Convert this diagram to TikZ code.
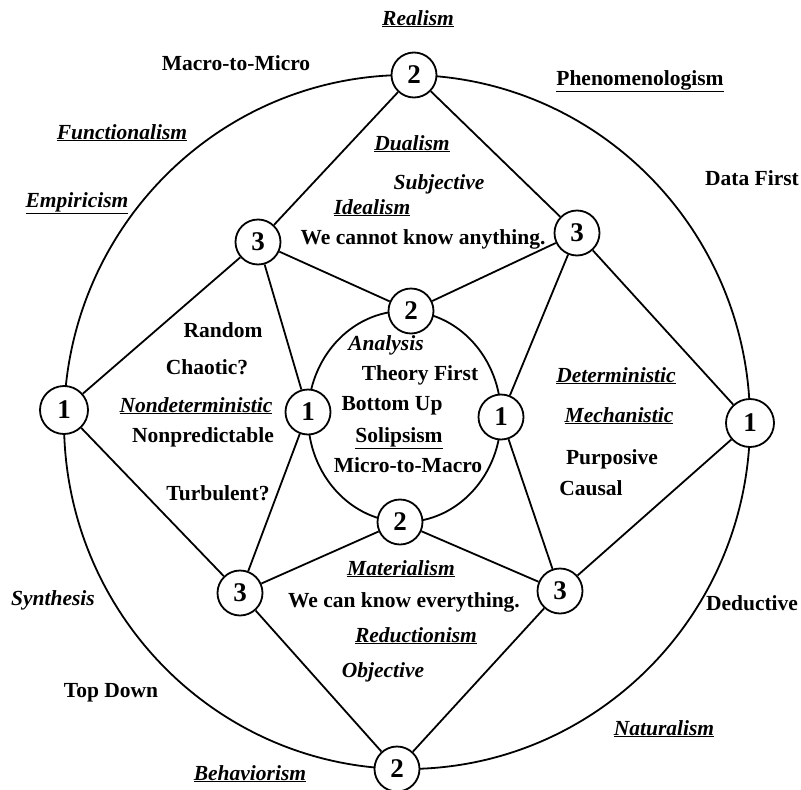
\documentclass[tikz,border=0pt]{standalone}
\usepackage{fontspec}
\setmainfont{Liberation Serif}
\tikzset{
  lab/.style={font=\fontsize{21.5}{24}\selectfont\bfseries, anchor=base, inner sep=0pt},
  ilab/.style={lab, font=\fontsize{21.5}{24}\selectfont\bfseries\itshape},
  num/.style={circle, draw, fill=white, line width=1.8pt, minimum size=45pt, inner sep=0pt,
              font=\fontsize{27}{27}\selectfont\bfseries},
  bignum/.style={num, minimum size=48pt},
  ring/.style={line width=1.8pt},
  link/.style={line width=1.8pt}
}
\begin{document}
\begin{tikzpicture}[x=1pt,y=-1pt]
\useasboundingbox (0,0) rectangle (801,790);
% rings
\draw[ring] (407,422) ellipse [x radius=343, y radius=347];
\draw[ring] (404.5,416.5) ellipse [x radius=96.5, y radius=105.5];
% nodes
\node[num]    (o2t) at (414,75)  {2};
\node[num]    (o2b) at (397,769) {2};
\node[bignum] (o1l) at (64,410)  {1};
\node[bignum] (o1r) at (750,423) {1};
\node[num] (t3ul) at (258,242) {3};
\node[num] (t3ur) at (577,233) {3};
\node[num] (t3ll) at (240,593) {3};
\node[num] (t3lr) at (560,591) {3};
\node[num] (i2t) at (411,311) {2};
\node[num] (i2b) at (400,522) {2};
\node[num] (i1l) at (308,412) {1};
\node[num] (i1r) at (501,417) {1};
% links
\draw[link] (o2t) -- (t3ul);
\draw[link] (o2t) -- (t3ur);
\draw[link] (o1l) -- (t3ul);
\draw[link] (o1l) -- (t3ll);
\draw[link] (o1r) -- (t3ur);
\draw[link] (o1r) -- (t3lr);
\draw[link] (o2b) -- (t3ll);
\draw[link] (o2b) -- (t3lr);
\draw[link] (t3ul) -- (i2t);
\draw[link] (t3ul) -- (i1l);
\draw[link] (t3ur) -- (i2t);
\draw[link] (t3ur) -- (i1r);
\draw[link] (t3ll) -- (i1l);
\draw[link] (t3ll) -- (i2b);
\draw[link] (t3lr) -- (i1r);
\draw[link] (t3lr) -- (i2b);
% labels
\node[ilab] (realism) at (418,25) {\underline{Realism}};
\node[lab] (macro) at (236,70) {Macro-to-Micro};
\node[lab] (phen) at (640,85) {\underline{Phenomenologism}};
\node[ilab] (func) at (122,139) {\underline{Functionalism}};
\node[ilab] (emp) at (77,207) {\underline{Empiricism}};
\node[lab] (data) at (752,185) {Data First};
\node[ilab] (dual) at (412,150) {\underline{Dualism}};
\node[ilab] (subj) at (439,189) {Subjective};
\node[ilab] (ideal) at (372,214) {\underline{Idealism}};
\node[lab] (cannot) at (423,244) {We cannot know anything.};
\node[lab] (random) at (223,337) {Random};
\node[lab] (chaotic) at (207,374) {Chaotic?};
\node[ilab] (nondet) at (196,412) {\underline{Nondeterministic}};
\node[lab] (nonpred) at (203,442) {Nonpredictable};
\node[lab] (turb) at (218,500) {Turbulent?};
\node[ilab] (anal) at (386,350) {Analysis};
\node[lab] (theory) at (420,380) {Theory First};
\node[lab] (bottom) at (392,410) {Bottom Up};
\node[lab] (solip) at (399,442) {\underline{Solipsism}};
\node[lab] (micro) at (408,472) {Micro-to-Macro};
\node[ilab] (det) at (616,382) {\underline{Deterministic}};
\node[ilab] (mech) at (619,422) {\underline{Mechanistic}};
\node[lab] (purp) at (612,464) {Purposive};
\node[lab] (causal) at (591,495) {Causal};
\node[ilab] (mat) at (401,575) {\underline{Materialism}};
\node[lab] (can) at (404,607) {We can know everything.};
\node[ilab] (red) at (416,642) {\underline{Reductionism}};
\node[ilab] (obj) at (383,677) {Objective};
\node[ilab] (synth) at (53,605) {Synthesis};
\node[lab] (topdown) at (111,697) {Top Down};
\node[ilab] (behav) at (250,780) {\underline{Behaviorism}};
\node[lab] (deduct) at (752,610) {Deductive};
\node[ilab] (nat) at (664,735) {\underline{Naturalism}};
\end{tikzpicture}
\end{document}
